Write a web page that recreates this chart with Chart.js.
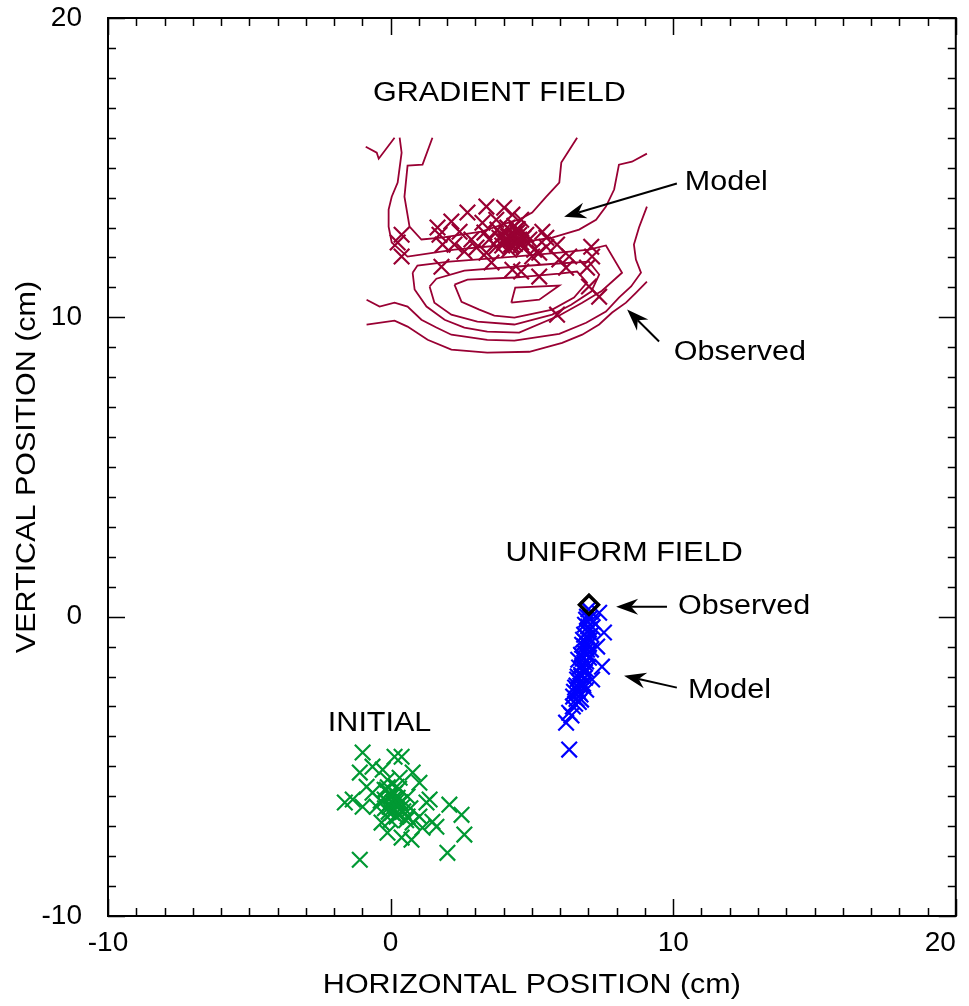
<!DOCTYPE html>
<html>
<head>
<meta charset="utf-8">
<script src="https://cdn.jsdelivr.net/npm/chart.js@4.4.0/dist/chart.umd.min.js"></script>
<style>
  html, body { margin: 0; padding: 0; background: #fff; }
  canvas { display: block; }
</style>
</head>
<body>
<canvas id="chart" width="969" height="1006"></canvas>
<script>
// axis ticks (cm)
const xTicks = [-10, 0, 10, 20];
const yTicks = [-10, 0, 10, 20];

// INITIAL positions (green crosses)
const initialPts = [
  [-0.99, -4.54], [0.14, -4.68], [0.39, -4.68], [-1.09, -5.21], [-0.64, -5.01],
  [-0.28, -5.11], [0.78, -5.21], [-0.85, -5.68], [-0.14, -5.78], [0.21, -5.68],
  [1.02, -5.55], [-1.62, -6.21], [-0.99, -6.35], [-0.49, -6.35], [0.07, -6.21],
  [0.42, -6.35], [1.38, -6.11], [2.08, -6.28], [2.51, -6.62], [-0.32, -6.88],
  [0.21, -6.68], [0.78, -6.88], [1.48, -6.85], [-0.11, -7.22], [0.39, -7.38],
  [0.74, -7.45], [1.13, -7.05], [1.62, -7.02], [2.61, -7.28], [2.01, -7.89],
  [-1.09, -8.12], [0.04, -6.01], [-0.11, -5.45], [0.32, -5.38], [-0.04, -6.35],
  [0.14, -6.45], [-0.21, -6.11], [0.25, -6.05], [0.60, -6.01], [0.60, -6.68],
  [1.02, -6.68], [1.27, -6.21], [-0.64, -5.88], [-1.34, -6.11], [0.00, -5.95],
  [0.18, -6.21], [-0.07, -6.52], [0.28, -6.62], [-0.21, -5.78],
  [0.10, -6.10], [-0.05, -6.25], [0.20, -6.35], [0.05, -6.55], [0.35, -6.20],
  [-0.20, -6.40], [0.15, -5.90], [0.45, -6.50], [-0.10, -5.70], [0.30, -5.75],
  [0.55, -6.80], [-0.35, -6.15], [0.70, -6.40], [0.00, -6.80]
];

// UNIFORM FIELD model (blue crosses)
const uniformModelPts = [
  [7.09, 0.17], [6.95, 0.00], [7.17, -0.17], [6.88, -0.27], [7.02, -0.43],
  [7.38, 0.13], [7.55, -0.53], [6.85, -0.60], [7.06, -0.77], [6.78, -0.94],
  [7.31, -1.00], [6.95, -1.10], [6.74, -1.27], [7.02, -1.37], [6.85, -1.54],
  [6.67, -1.70], [7.48, -1.67], [6.92, -1.77], [6.74, -1.94], [6.60, -2.10],
  [7.13, -2.10], [6.81, -2.24], [6.53, -2.37], [6.92, -2.44], [6.67, -2.54],
  [6.46, -2.67], [6.74, -2.77], [6.53, -2.91], [6.32, -3.21], [6.21, -3.54],
  [6.32, -4.44], [6.99, -0.33], [6.81, -0.77], [7.09, -1.10], [6.64, -1.44],
  [6.88, -2.04], [6.71, -2.31], [6.49, -2.51],
  [7.00, 0.25], [6.92, -0.10], [7.05, -0.05], [6.96, -0.50], [7.10, -0.60],
  [6.90, -0.85], [7.00, -0.95], [6.85, -1.20], [6.98, -1.25], [6.80, -1.40],
  [6.92, -1.50], [6.78, -1.65], [6.88, -1.85], [6.75, -2.00], [6.70, -2.20],
  [6.82, -2.30], [6.62, -2.45], [6.72, -2.60], [6.58, -2.75], [6.66, -2.85],
  [6.45, -3.00], [6.40, -3.30], [7.15, -0.35], [6.95, -0.70], [6.86, -1.00],
  [6.76, -1.30], [6.84, -1.72], [6.62, -2.00], [6.58, -2.30]
];

// UNIFORM FIELD observed (black diamond)
const uniformObservedPts = [[7.02, 0.40]];

// GRADIENT FIELD model (maroon crosses)
const gradientModelPts = [
  [0.39, 12.76], [0.25, 12.50], [0.39, 12.03], [1.66, 13.00], [1.73, 12.76],
  [1.84, 12.43], [1.80, 11.69], [2.15, 13.20], [2.72, 13.50], [3.39, 13.70],
  [4.02, 13.66], [4.31, 13.43], [3.25, 13.16], [3.74, 13.26], [4.62, 13.26],
  [2.61, 12.20], [3.04, 12.33], [3.39, 12.16], [3.74, 12.36], [4.13, 12.60],
  [4.38, 12.70], [4.62, 12.50], [4.80, 12.76], [4.09, 12.83], [3.85, 12.66],
  [4.45, 12.93], [3.57, 11.83], [4.31, 11.59], [4.62, 11.53], [5.26, 11.36],
  [5.01, 12.03], [5.37, 12.86], [5.51, 12.66], [5.89, 12.43], [5.97, 11.93],
  [6.21, 11.66], [6.32, 12.03], [6.95, 11.66], [7.10, 12.36], [7.13, 12.03],
  [7.02, 11.03], [7.38, 10.69], [5.89, 10.09], [5.08, 12.26], [5.26, 12.16],
  [5.51, 12.36], [4.02, 12.50], [4.27, 12.43], [4.55, 12.60], [4.20, 12.26],
  [3.78, 12.93], [4.73, 12.33], [4.38, 13.06], [4.91, 12.60], [3.49, 12.60],
  [3.95, 12.73], [4.48, 12.83], [4.13, 13.00], [3.32, 12.83], [2.86, 12.60],
  [2.44, 12.86], [2.26, 12.43],
  [4.30, 12.60], [4.45, 12.55], [4.15, 12.70], [4.55, 12.75], [4.05, 12.55],
  [4.35, 12.80], [4.60, 12.40], [4.25, 12.35], [4.70, 12.65], [3.95, 12.40],
  [4.50, 12.95], [4.40, 12.45]
];

// GRADIENT FIELD observed density contours (maroon lines)
const contourV = [[-0.88, 15.70], [-0.49, 15.50], [-0.42, 15.30], [0.14, 16.00]];
const contourOuterTop = [
  [0.32, 16.00], [0.39, 15.50], [0.25, 14.50], [0.04, 14.03], [-0.07, 13.60],
  [-0.07, 13.03], [0.04, 12.50], [0.60, 12.03], [2.26, 12.26], [3.85, 12.40],
  [5.72, 12.66], [6.67, 12.93], [7.27, 13.26], [7.62, 13.70], [7.91, 14.27],
  [8.08, 15.10], [8.54, 15.20], [9.07, 15.47]
];
const contourInnerTop = [
  [1.48, 16.00], [1.13, 15.10], [0.60, 15.07], [0.49, 14.03], [0.67, 13.03],
  [1.09, 12.60], [1.80, 12.66], [3.21, 12.86], [4.27, 13.20], [4.55, 13.26],
  [5.01, 13.50], [5.51, 14.03], [5.97, 14.50], [6.04, 15.17], [6.60, 16.00]
];
const contour1 = [[4.27, 10.49], [4.41, 10.99], [5.97, 11.06], [5.26, 10.59], [4.27, 10.49]];
const contour2 = [
  [2.26, 11.09], [2.72, 11.26], [4.38, 11.33], [5.97, 11.46], [6.60, 11.53],
  [6.95, 11.16], [6.49, 10.66], [5.72, 10.26], [4.38, 9.99], [3.67, 10.06],
  [3.14, 10.26], [2.51, 10.52], [2.26, 11.09]
];
const contour3 = [
  [1.38, 11.03], [1.62, 11.29], [2.61, 11.56], [4.38, 11.69], [5.79, 11.79],
  [7.02, 11.86], [7.38, 11.43], [7.10, 10.86], [6.39, 10.42], [5.72, 10.09],
  [4.38, 9.76], [3.07, 9.86], [2.15, 10.09], [1.55, 10.49], [1.38, 11.03]
];
const contour4 = [
  [0.78, 11.49], [0.95, 11.73], [2.08, 11.86], [4.38, 12.03], [5.97, 12.16],
  [7.02, 12.26], [7.62, 12.40], [8.19, 11.49], [7.48, 10.89], [6.78, 10.49],
  [5.97, 10.06], [4.55, 9.49], [3.42, 9.52], [2.61, 9.66], [1.91, 9.92],
  [1.27, 10.36], [0.85, 10.93], [0.78, 11.49]
];
const contourOpenA = [
  [-0.85, 10.59], [-0.39, 10.36], [0.14, 10.49], [0.60, 10.36], [1.09, 9.92],
  [1.62, 9.66], [2.15, 9.42], [3.42, 9.25], [4.38, 9.22], [5.97, 9.45],
  [6.92, 9.82], [7.62, 10.19], [8.08, 10.66], [8.51, 11.03], [8.86, 11.49],
  [8.68, 11.93], [8.61, 12.43], [8.79, 13.00], [9.07, 13.70]
];
const contourOpenB = [
  [-0.85, 9.76], [0.14, 9.89], [0.60, 9.69], [1.31, 9.25], [2.15, 8.92],
  [3.42, 8.82], [4.91, 8.85], [6.07, 9.15], [6.78, 9.42], [7.38, 9.76],
  [7.84, 10.16], [8.33, 10.49], [8.68, 10.82], [9.07, 11.19]
];
const gradientContours = [
  contourV, contourOuterTop, contourInnerTop, contour1, contour2,
  contour3, contour4, contourOpenA, contourOpenB
];

// text labels and arrows, in data coordinates
const labelTexts = ['GRADIENT FIELD', 'Model', 'Observed', 'UNIFORM FIELD', 'Observed', 'Model', 'INITIAL'];
const labelAt = [[3.85, 17.47], [10.41, 14.50], [10.02, 8.82], [8.26, 2.10], [10.17, 0.33], [10.52, -2.47], [-0.39, -3.57]];
const labelAlign = ['center', 'left', 'left', 'center', 'left', 'left', 'center'];
const arrows = [
  [[10.13, 14.47], [6.14, 13.36]],
  [[9.50, 9.19], [8.37, 10.26]],
  [[9.78, 0.33], [7.98, 0.33]],
  [[10.13, -2.37], [8.26, -1.97]]
];

const MAROON = '#990033';
const BLUE = '#0000ff';
const GREEN = '#009933';
const FONT = '"Liberation Sans", Arial, sans-serif';
const STRETCH = 1.13;

const toXY = pts => pts.map(([x, y]) => ({ x, y }));

function drawText(ctx, text, x, y, align, rotated) {
  ctx.save();
  ctx.translate(x, y);
  if (rotated) ctx.rotate(-Math.PI / 2);
  ctx.scale(STRETCH, 1);
  ctx.textAlign = align;
  ctx.textBaseline = 'middle';
  ctx.fillText(text, 0, 0);
  ctx.restore();
}

function drawArrow(ctx, x0, y0, x1, y1) {
  const a = Math.atan2(y1 - y0, x1 - x0);
  const c = Math.cos(a), s = Math.sin(a);
  const len = 22, half = 8, notch = 15;
  ctx.beginPath();
  ctx.moveTo(x0, y0);
  ctx.lineTo(x1 - c * notch, y1 - s * notch);
  ctx.stroke();
  ctx.beginPath();
  ctx.moveTo(x1, y1);
  ctx.lineTo(x1 - c * len - s * half, y1 - s * len + c * half);
  ctx.lineTo(x1 - c * notch, y1 - s * notch);
  ctx.lineTo(x1 - c * len + s * half, y1 - s * len - c * half);
  ctx.closePath();
  ctx.fill();
}

const framePlugin = {
  id: 'frame',
  afterDraw(chart) {
    const ctx = chart.ctx;
    const xs = chart.scales.x, ys = chart.scales.y;
    const { left, right, top, bottom } = chart.chartArea;
    ctx.save();
    ctx.strokeStyle = '#000';
    ctx.fillStyle = '#000';

    // inward ticks on all four sides
    ctx.lineWidth = 1.5;
    ctx.beginPath();
    for (let v = xs.min; v <= xs.max; v++) {
      const p = Math.round(xs.getPixelForValue(v)) + 0.5;
      const l = v % 10 === 0 ? 17 : 8;
      ctx.moveTo(p, bottom); ctx.lineTo(p, bottom - l);
      ctx.moveTo(p, top); ctx.lineTo(p, top + l);
    }
    for (let v = ys.min; v <= ys.max; v++) {
      const p = Math.round(ys.getPixelForValue(v)) + 0.5;
      const l = v % 10 === 0 ? 17 : 8;
      ctx.moveTo(left, p); ctx.lineTo(left + l, p);
      ctx.moveTo(right, p); ctx.lineTo(right - l, p);
    }
    ctx.stroke();

    // frame
    ctx.lineWidth = 2;
    ctx.strokeRect(left, top, right - left, bottom - top);

    // arrows
    ctx.lineWidth = 2;
    arrows.forEach(([from, to]) => {
      drawArrow(ctx,
        xs.getPixelForValue(from[0]), ys.getPixelForValue(from[1]),
        xs.getPixelForValue(to[0]), ys.getPixelForValue(to[1]));
    });

    // annotations
    ctx.font = '27px ' + FONT;
    labelTexts.forEach((t, i) => {
      drawText(ctx, t, xs.getPixelForValue(labelAt[i][0]), ys.getPixelForValue(labelAt[i][1]), labelAlign[i], false);
    });

    // axis titles
    drawText(ctx, 'HORIZONTAL POSITION (cm)', (left + right) / 2, 986, 'center', false);
    drawText(ctx, 'VERTICAL POSITION (cm)', 28, (top + bottom) / 2, 'center', true);
    ctx.restore();
  }
};

const crossStyle = color => ({
  pointStyle: 'crossRot',
  pointRadius: 11,
  pointBorderWidth: 2.2,
  borderColor: color,
  backgroundColor: color,
  showLine: false
});

const datasets = [
  {
    label: 'Uniform observed',
    data: toXY(uniformObservedPts),
    pointStyle: 'rectRot',
    pointRadius: 9.5,
    pointBorderWidth: 3.5,
    borderColor: '#000',
    backgroundColor: 'rgba(0,0,0,0)',
    showLine: false
  },
  { label: 'Uniform model', data: toXY(uniformModelPts), ...crossStyle(BLUE) },
  { label: 'Initial', data: toXY(initialPts), ...crossStyle(GREEN) },
  { label: 'Gradient model', data: toXY(gradientModelPts), ...crossStyle(MAROON) },
  ...gradientContours.map((c, i) => ({
    label: 'Contour ' + i,
    data: toXY(c),
    showLine: true,
    borderColor: MAROON,
    borderWidth: 1.8,
    pointRadius: 0,
    tension: 0,
    fill: false
  }))
];

new Chart(document.getElementById('chart'), {
  type: 'scatter',
  data: { datasets },
  options: {
    responsive: false,
    animation: false,
    events: [],
    layout: { padding: { top: 18, right: 11, left: 0, bottom: 0 } },
    plugins: { legend: { display: false }, tooltip: { enabled: false } },
    scales: {
      x: {
        type: 'linear', min: -10, max: 20,
        afterBuildTicks: s => { s.ticks = xTicks.map(v => ({ value: v })); },
        afterFit: s => { s.height = 90; s.paddingLeft = 0; s.paddingRight = 0; },
        grid: { display: false, drawTicks: false },
        border: { display: false },
        ticks: {
          padding: 10,
          color: '#000',
          font: { family: FONT, size: 28 },
          maxRotation: 0,
          autoSkip: false,
          callback: v => (v === 20 ? '20    ' : String(v))
        }
      },
      y: {
        type: 'linear', min: -10, max: 20,
        afterBuildTicks: s => { s.ticks = yTicks.map(v => ({ value: v })); },
        afterFit: s => { s.width = 108; s.paddingTop = 0; s.paddingBottom = 0; },
        grid: { display: false, drawTicks: false },
        border: { display: false },
        ticks: {
          padding: 26,
          color: '#000',
          font: { family: FONT, size: 28 },
          autoSkip: false
        }
      }
    }
  },
  plugins: [framePlugin]
});
</script>
</body>
</html>
